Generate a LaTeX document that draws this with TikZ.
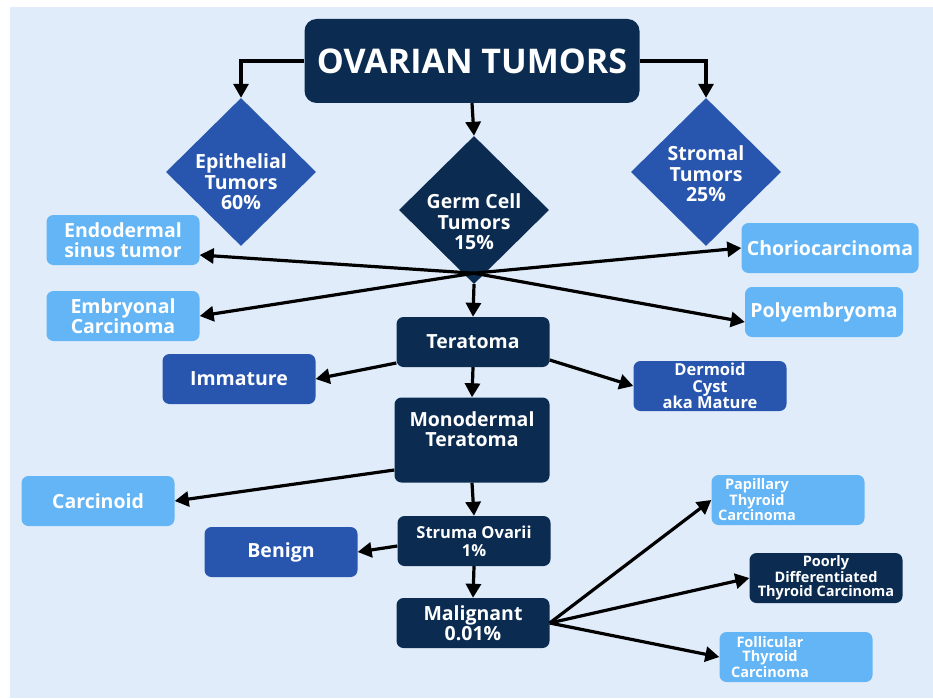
\documentclass[tikz,border=0pt]{standalone}
\usepackage{fontspec}
\setmainfont{Open Sans}
\usetikzlibrary{shapes.geometric,arrows.meta,positioning}
\definecolor{bgblue}{HTML}{E0ECFA}
\definecolor{navy}{HTML}{0B2C50}
\definecolor{midblue}{HTML}{2856AE}
\definecolor{skyblue}{HTML}{64B5F6}

\begin{document}
\begin{tikzpicture}[x=1pt,y=-1pt,
  box/.style={rounded corners=7pt,text=white,align=center,inner sep=2pt,
    minimum width=153pt,minimum height=50pt,font=\bfseries\fontsize{19.5}{20.5}\selectfont},
  navybox/.style={box,fill=navy},
  midbox/.style={box,fill=midblue},
  skybox/.style={box,fill=skyblue},
  gem/.style={diamond,aspect=1,fill=midblue,inner sep=0pt,
    minimum width=150pt,minimum height=148pt},
  lbl/.style={text=white,align=center,font=\bfseries\fontsize{19.5}{20.5}\selectfont},
  small/.style={font=\bfseries\fontsize{14.5}{14}\selectfont},
  arr/.style={-{Triangle[length=14pt,width=15pt]},line width=3.2pt,black}]
  % background
  \useasboundingbox (0,0) rectangle (933,698);
  \fill[white] (0,0) rectangle (933,698);
  \fill[bgblue] (10,7) rectangle (933,698);
  % top level
  \node[navybox,minimum width=335pt,minimum height=84pt,rounded corners=12pt,
    font=\bfseries\fontsize{34}{36}\selectfont] (root) at (472,61) {OVARIAN TUMORS};
  \node[gem,label={[lbl,yshift=-10pt]center:Epithelial\\Tumors\\60\%}] (epi) at (241,172) {};
  \node[gem,fill=navy,label={[lbl,yshift=-12pt]center:Germ Cell\\Tumors\\15\%}] (germ) at (474,210) {};
  \node[gem,label={[lbl,yshift=-2pt]center:Stromal\\Tumors\\25\%}] (strom) at (706,172) {};
  \draw[arr] (root.west) -| (epi.north);
  \draw[arr] (root.east) -| (strom.north);
  \draw[arr] (root.south) -- (germ.north);
  % germ cell branches
  \node[skybox] (endo) at (123,240) {Endodermal\\sinus tumor};
  \node[skybox] (embr) at (123,316) {Embryonal\\Carcinoma};
  \node[skybox,minimum width=177pt] (chorio) at (830,248) {Choriocarcinoma};
  \node[skybox,minimum width=158pt] (poly) at (824,312) {Polyembryoma};
  \coordinate (hub) at ([yshift=11pt]germ.south);
  \draw[arr] (hub) -- ([yshift=-15pt]endo.east);
  \draw[arr] (hub) -- (embr.east);
  \draw[arr] (hub) -- (chorio.west);
  \draw[arr] (hub) -- ([yshift=-10pt]poly.west);
  % teratoma
  \node[navybox] (ter) at (473,342) {Teratoma};
  \draw[arr] (germ.south) -- (ter.north);
  \node[midbox] (imm) at (239,379) {Immature};
  \node[midbox,font=\bfseries\fontsize{16.5}{16.5}\selectfont] (derm) at (710,386) {Dermoid\\Cyst\\aka Mature};
  \node[navybox,minimum width=155pt,minimum height=85pt,
    label={[lbl,yshift=11pt]center:Monodermal\\Teratoma}] (mono) at (472,440) {};
  \draw[arr] ([yshift=-21pt]ter.west) -- (imm.east);
  \draw[arr] ([yshift=-18pt]ter.east) -- (derm.west);
  \draw[arr] (ter.south) -- (mono.north);
  % monodermal
  \node[skybox] (carc) at (98,501) {Carcinoid};
  \node[navybox,font=\bfseries\fontsize{16.5}{18}\selectfont] (stru) at (474,541) {Struma Ovarii\\1\%};
  \node[midbox] (ben) at (281,552) {Benign};
  \node[navybox] (mal) at (473,623) {Malignant\\0.01\%};
  \draw[arr] ([yshift=-30pt]mono.west) -- (carc.east);
  \draw[arr] (mono.south) -- (stru.north);
  \draw[arr] ([yshift=-5pt]stru.west) -- (ben.east);
  \draw[arr] (stru.south) -- (mal.north);
  % malignant
  \node[skybox,label={[lbl,small,xshift=-31pt]center:Papillary\\Thyroid\\Carcinoma}] (pap) at (788,500) {};
  \node[navybox,small] (poor) at (826,578) {Poorly\\Differentiated\\Thyroid Carcinoma};
  \node[skybox,label={[lbl,small,xshift=-26pt]center:Follicular\\Thyroid\\Carcinoma}] (fol) at (796,657) {};
  \draw[arr] (mal.east) -- (pap.west);
  \draw[arr] (mal.east) -- (poor.west);
  \draw[arr] (mal.east) -- (fol.west);
\end{tikzpicture}
\end{document}
